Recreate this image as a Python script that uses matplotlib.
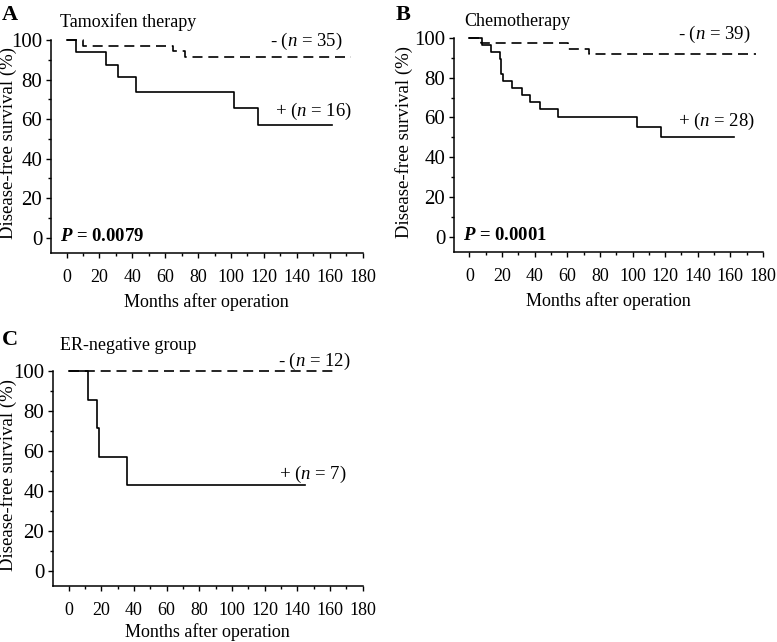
import matplotlib
matplotlib.use('Agg')
import matplotlib.pyplot as plt
from matplotlib.ticker import MultipleLocator

plt.rcParams['font.family'] = ['Liberation Serif', 'DejaVu Serif']
plt.rcParams['mathtext.fontset'] = 'custom'
plt.rcParams['mathtext.rm'] = 'Liberation Serif'
plt.rcParams['mathtext.it'] = 'Liberation Serif:italic'
plt.rcParams['mathtext.bf'] = 'Liberation Serif:bold'
plt.rcParams['mathtext.bfit'] = 'Liberation Serif:italic:bold'

W, H = 777, 642

# panel A - tamoxifen therapy
a_pos_t = [0, 5.5, 24.2, 31.2, 42, 101.8, 116.7, 161.5]
a_pos_s = [100, 93.8, 87.5, 81.3, 73.5, 65.4, 57.2, 57.2]
a_neg_t = [0, 9.7, 64.6, 71.9, 173]
a_neg_s = [100, 97.1, 94.3, 91.2, 91.2]

# panel B - chemotherapy
b_pos_t = [0, 7.7, 13, 18.6, 19.1, 19.6, 20.4, 26.1, 32.2, 37.2, 43.3, 54.3, 102.9, 117.6, 162.5]
b_pos_s = [100, 96.4, 92.9, 89.3, 85.7, 82.1, 78.6, 75, 71.4, 67.9, 64.3, 60, 55, 50.2, 50.2]
b_neg_t = [0, 7, 60.4, 73, 175.7]
b_neg_s = [100, 97.4, 94.6, 92.1, 92.1]

# panel C - ER-negative group
c_pos_t = [0, 12, 17.4, 18.4, 35.8, 144.5]
c_pos_s = [100, 85.7, 71.4, 57.1, 42.9, 42.9]
c_neg_t = [0, 165]
c_neg_s = [100, 100]

# letter, title, curves, n labels, p value, axes box (px: left, top, right, bottom),
# letter xy (px), title xy (px), ylabel x (axes), xlabel pad, neg label xy, pos label xy
panels = [
    ('A', 'Tamoxifen therapy', a_pos_t, a_pos_s, a_neg_t, a_neg_s, '35', '16', '0.0079',
     (51, 40, 362.5, 253), (2, 15), (60, 22), -0.110, 5, (124, 99.5), (127, 64)),
    ('B', 'Chemotherapy', b_pos_t, b_pos_s, b_neg_t, b_neg_s, '39', '28', '0.0001',
     (454, 38, 763, 252), (396, 15), (464, 22), -0.133, 5, (128, 102), (128, 58)),
    ('C', 'ER-negative group', c_pos_t, c_pos_s, c_neg_t, c_neg_s, '12', '7', None,
     (53, 371, 362.7, 586), (2, 340), (60, 345), -0.116, 2.5, (128, 105), (129, 48)),
]

fig = plt.figure(figsize=(W / 100, H / 100), dpi=100)

for (letter, title, pt, ps, nt, ns, n_neg, n_pos, pval, box, lxy, txy, ylx, xlp,
     neg_xy, pos_xy) in panels:
    l, t, r, b = box
    ax = fig.add_axes([l / W, 1 - b / H, (r - l) / W, (b - t) / H])
    ax.step(nt, ns, where='post', color='black', lw=1.2, linestyle=(0, (6, 3.5)), clip_on=False)
    ax.step(pt, ps, where='post', color='black', lw=1.2, clip_on=False)

    ax.set_xlim(-9.5, 180)
    ax.set_ylim(-7.7, 100)
    ax.xaxis.set_major_locator(MultipleLocator(20))
    ax.xaxis.set_minor_locator(MultipleLocator(10))
    ax.yaxis.set_major_locator(MultipleLocator(20))
    ax.yaxis.set_minor_locator(MultipleLocator(10))
    ax.spines['top'].set_visible(False)
    ax.spines['right'].set_visible(False)
    for s in ['left', 'bottom']:
        ax.spines[s].set_linewidth(1.1)
    ax.tick_params(which='major', direction='out', length=3.8, width=1)
    ax.tick_params(which='minor', direction='out', length=2, width=1)
    ax.tick_params(axis='x', which='major', pad=8, labelsize=13)
    ax.tick_params(axis='y', which='major', pad=2.5, labelsize=15)

    ax.set_xlabel('Months after operation', fontsize=13, labelpad=xlp)
    ax.set_ylabel('Disease-free survival (%)', fontsize=13.5)
    ax.yaxis.set_label_coords(ylx, 0.515)

    ax.text(neg_xy[0], neg_xy[1], '- ($n$ = %s)' % n_neg, fontsize=13.5, va='center', ha='left')
    ax.text(pos_xy[0], pos_xy[1], '+ ($n$ = %s)' % n_pos, fontsize=13.5, va='center', ha='left')
    if pval:
        ax.text(-4, 0.5, r'$\mathbfit{P}$ = %s' % pval, fontsize=13.5, fontweight='bold',
                va='center', ha='left')

    fig.text(lxy[0] / W, 1 - lxy[1] / H, letter, fontsize=16, fontweight='bold',
             va='center', ha='left')
    fig.text(txy[0] / W, 1 - txy[1] / H, title, fontsize=13, va='center', ha='left')

fig.savefig('out.png', dpi=100)
